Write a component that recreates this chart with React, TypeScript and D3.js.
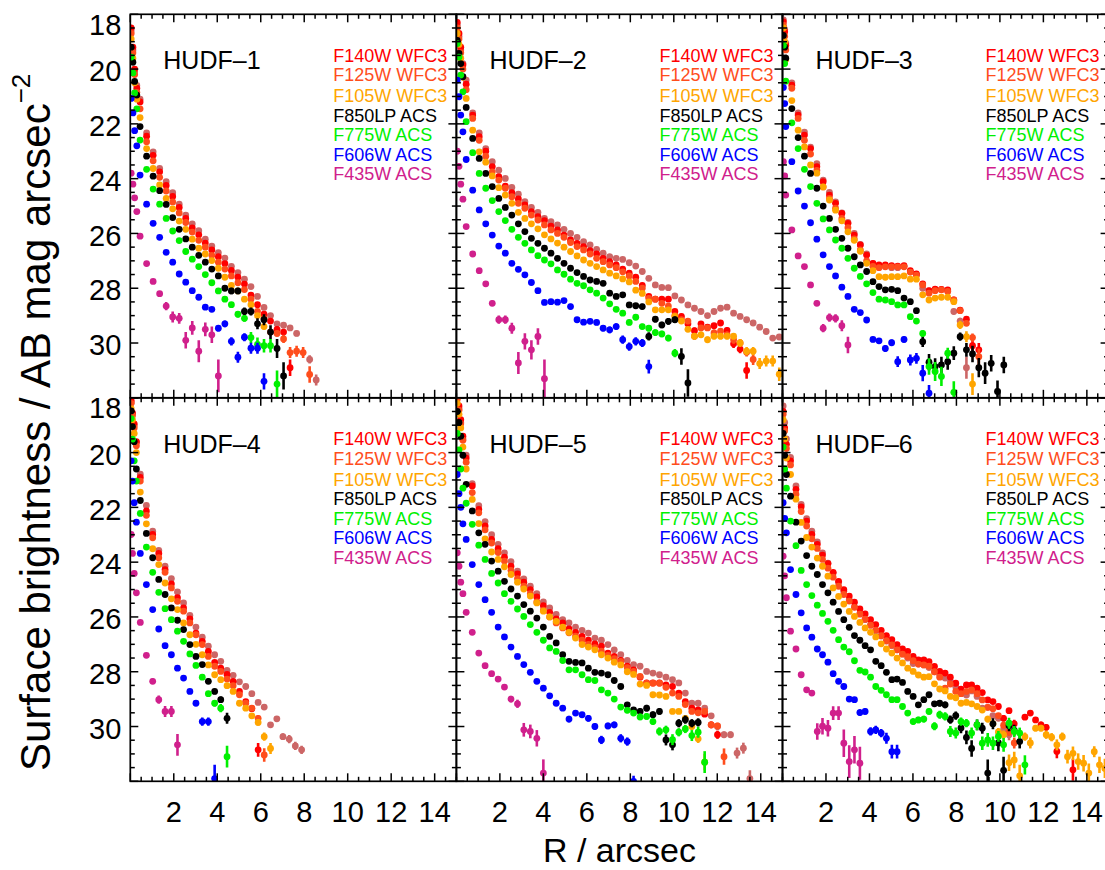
import React from 'react';
import * as d3 from 'd3';

type Pt = number | [number, number] | null;

// ---------- radii (arcsec) of the profile points, one grid per galaxy ----------
const R_HUDF1 = [0.04, 0.12, 0.2, 0.3, 0.45, 0.75, 1.05, 1.35, 1.65, 1.95, 2.25, 2.55, 2.85, 3.15, 3.45, 3.75, 4.05, 4.35, 4.65, 4.95, 5.25, 5.55, 5.85, 6.15, 6.45, 6.75, 7.05, 7.35, 7.65, 7.95, 8.25, 8.55];
const R_HUDF2 = [0.04, 0.12, 0.2, 0.3, 0.45, 0.75, 1.05, 1.35, 1.65, 1.95, 2.25, 2.55, 2.85, 3.15, 3.45, 3.75, 4.05, 4.35, 4.65, 4.95, 5.25, 5.55, 5.85, 6.15, 6.45, 6.75, 7.05, 7.35, 7.65, 7.95, 8.25, 8.55, 8.85, 9.15, 9.45, 9.75, 10.05, 10.35, 10.65, 10.95, 11.25, 11.55, 11.85, 12.15, 12.45, 12.75, 13.05, 13.35, 13.65, 13.95, 14.25, 14.55, 14.85];
const R_HUDF3 = [0.04, 0.1, 0.15, 0.43, 0.72, 1.01, 1.29, 1.58, 1.87, 2.16, 2.44, 2.73, 3.01, 3.3, 3.58, 3.87, 4.16, 4.44, 4.73, 5.02, 5.3, 5.59, 5.88, 6.16, 6.45, 6.74, 7.02, 7.31, 7.6, 7.88, 8.17, 8.46, 8.74, 9.03, 9.32, 9.6, 9.89, 10.18];
const R_HUDF4 = [0.04, 0.1, 0.18, 0.28, 0.46, 0.74, 1.03, 1.31, 1.6, 1.89, 2.17, 2.45, 2.74, 3.02, 3.31, 3.59, 3.88, 4.16, 4.45, 4.73, 5.02, 5.31, 5.59, 5.88, 6.16, 6.45, 6.74, 7.02, 7.31, 7.59, 7.88];
const R_HUDF5 = [0.04, 0.12, 0.2, 0.3, 0.45, 0.73, 1.03, 1.32, 1.62, 1.92, 2.21, 2.51, 2.81, 3.1, 3.4, 3.7, 4.0, 4.29, 4.59, 4.89, 5.18, 5.48, 5.78, 6.07, 6.37, 6.67, 6.97, 7.26, 7.56, 7.86, 8.15, 8.45, 8.75, 9.04, 9.34, 9.64, 9.94, 10.23, 10.53, 10.83, 11.12, 11.42, 11.72, 12.01, 12.31, 12.61, 12.91, 13.2, 13.5];
const R_HUDF6 = [0.03, 0.1, 0.18, 0.37, 0.62, 0.86, 1.11, 1.35, 1.6, 1.84, 2.09, 2.33, 2.58, 2.82, 3.07, 3.31, 3.56, 3.8, 4.05, 4.29, 4.54, 4.78, 5.03, 5.27, 5.52, 5.76, 6.01, 6.25, 6.5, 6.74, 6.99, 7.23, 7.48, 7.72, 7.97, 8.21, 8.46, 8.7, 8.95, 9.19, 9.44, 9.68, 9.93, 10.17, 10.42, 10.66, 10.91, 11.15, 11.4, 11.64, 11.89, 12.13, 12.38, 12.62, 12.87, 13.11, 13.36, 13.6, 13.85, 14.09, 14.34, 14.58, 14.83];

// ---------- surface brightness (AB mag/arcsec^2); [mag, err] where an error bar shows ----------
// HUDF-1
const HUDF1_F160W: Pt[] = [18.6, 19.3, 20.1, 20.6, 21.1, 22.33, 23.02, 23.63, 24.11, 24.51, 24.93, 25.33, 25.65, 25.9, 26.21, 26.46, 26.7, 26.9, 27.2, 27.43, 27.67, 27.94, 28.3, 28.7, 29.0, 29.3, 29.35, [29.45, 0.08], [29.65, 0.1], null, [30.6, 0.15], [31.35, 0.2]];
const HUDF1_F140W: Pt[] = [18.5, 19.2, 20.0, 20.7, 21.2, 22.45, 23.15, 23.75, 24.25, 24.65, 25.05, 25.45, 25.8, 26.05, 26.35, 26.6, 26.85, 27.1, 27.35, 27.6, 27.85, 28.25, 28.6, 28.95, [29.2, 0.1], [29.5, 0.12], [29.6, 0.12], [30.9, 0.3]];
const HUDF1_F125W: Pt[] = [18.7, 19.4, 20.2, 20.85, 21.45, 22.65, 23.35, 23.95, 24.45, 24.85, 25.25, 25.6, 25.95, 26.25, 26.5, 26.8, 27.05, 27.3, 27.55, 27.8, 28.05, 28.4, 28.85, 29.1, [29.6, 0.12], [29.65, 0.12], [29.85, 0.15], [30.35, 0.2], [30.3, 0.2], [30.35, 0.2], [31.15, 0.3]];
const HUDF1_F105W: Pt[] = [18.9, 19.6, 20.5, 21.1, 21.77, 22.9, 23.63, 24.23, 24.72, 25.1, 25.55, 25.85, 26.21, 26.54, 26.75, 26.99, 27.27, 27.6, 27.9, 28.1, 28.4, 28.6, [29.0, 0.1], [29.4, 0.12]];
const HUDF1_F850LP: Pt[] = [19.2, 19.75, 20.45, 20.95, 22.1, 23.18, 23.91, 24.44, 24.94, 25.42, 25.85, 26.2, 26.5, 26.8, 27.05, 27.3, 27.55, [28.0, 0.1], [28.1, 0.12], [28.1, 0.12], [28.85, 0.15], [28.85, 0.15], [29.3, 0.2], [29.15, 0.2], [29.6, 0.25], [30.2, 0.35], [31.2, 0.5]];
const HUDF1_F775W: Pt[] = [19.56, 20.14, 20.87, 21.45, 22.59, 23.66, 24.38, 24.93, 25.45, 25.91, 26.26, 26.66, 26.94, 27.21, 27.5, 27.8, 28.1, 28.4, 28.6, [28.95, 0.12], [29.1, 0.12], [29.8, 0.2], [30.05, 0.25], [30.1, 0.25], [30.1, 0.25], [31.5, 0.5]];
const HUDF1_F606W: Pt[] = [21.07, 21.6, 22.25, 22.8, 23.87, 24.93, 25.63, 26.14, 26.69, 27.05, 27.48, 27.78, 28.09, 28.33, 28.69, 28.77, [29.46, 0.12], [29.3, 0.12], [29.94, 0.15], [30.52, 0.2], [29.79, 0.15], [30.19, 0.2], [30.19, 0.2], [31.4, 0.3]];
const HUDF1_F435W: Pt[] = [23.8, 24.2, 24.7, 25.2, 26.1, 27.1, 27.75, [28.2, 0.1], [28.65, 0.15], [29.05, 0.2], [29.1, 0.2], [29.9, 0.3], [29.45, 0.25], [30.3, 0.4], [29.5, 0.25], [29.7, 0.3], [31.2, 0.6]];

// HUDF-2
const HUDF2_F160W: Pt[] = [18.4, 18.8, 19.3, 19.8, 20.4, 21.6, 22.33, 22.9, 23.38, 23.69, 23.99, 24.32, 24.57, 24.84, 25.05, 25.23, 25.45, 25.57, 25.69, 25.85, 26.0, 26.14, 26.3, 26.42, 26.58, 26.72, 26.85, 26.91, 26.95, 27.07, 27.19, 27.39, 27.64, 27.88, 27.97, 27.98, 28.28, 28.43, 28.61, 28.73, 28.85, 29.0, 28.85, 28.73, 28.69, 28.91, 29.03, 29.15, 29.27, 29.42, 29.58, 29.82, 29.78];
const HUDF2_F140W: Pt[] = [18.3, 18.7, 19.2, 19.85, 20.55, 21.68, 22.47, 23.0, 23.56, 23.93, 24.27, 24.51, 24.74, 24.96, 25.2, 25.39, 25.53, 25.73, 25.87, 26.06, 26.24, 26.36, 26.48, 26.63, 26.75, 26.91, 27.03, 27.15, 27.3, 27.45, 27.6, 27.9, 28.3, 28.4, 28.4, 28.4, 28.85, [29.03, 0.1], [29.3, 0.1], [29.55, 0.12], [29.3, 0.1], [29.42, 0.1], [29.37, 0.1], [29.27, 0.1], [29.54, 0.12], [30.03, 0.15], [30.22, 0.15], [31.0, 0.3]];
const HUDF2_F125W: Pt[] = [18.5, 18.9, 19.4, 20.0, 20.75, 21.8, 22.6, 23.18, 23.75, 24.05, 24.35, 24.66, 24.9, 25.08, 25.33, 25.51, 25.69, 25.87, 26.0, 26.14, 26.33, 26.48, 26.6, 26.75, 26.91, 27.03, 27.15, 27.25, 27.4, 27.55, 27.75, 28.0, 28.37, 28.4, 28.55, 28.65, 29.0, [29.15, 0.1], [29.2, 0.1], [29.75, 0.12], [29.45, 0.1], [29.45, 0.1], [29.63, 0.12], [29.57, 0.12], [29.7, 0.12], [29.88, 0.15], [30.0, 0.15], [30.34, 0.15], [30.6, 0.2]];
const HUDF2_F105W: Pt[] = [18.7, 19.1, 19.6, 20.3, 21.07, 22.23, 23.02, 23.4, 23.9, 24.33, 24.6, 24.9, 25.23, 25.45, 25.65, 25.83, 26.05, 26.2, 26.35, 26.5, 26.66, 26.82, 26.97, 27.09, 27.21, 27.33, 27.45, 27.55, 27.66, 27.77, 28.07, 28.19, 28.5, 28.79, 28.79, 28.79, 29.03, [29.2, 0.1], [29.5, 0.1], [29.75, 0.12], [29.7, 0.12], [29.88, 0.12], [29.75, 0.12], [29.75, 0.12], [29.75, 0.12], [29.75, 0.12], [30.0, 0.15], [30.3, 0.15], [30.3, 0.15], [30.75, 0.2], [30.66, 0.2], [30.66, 0.2], [31.14, 0.25]];
const HUDF2_F850LP: Pt[] = [18.95, 19.43, 19.8, 20.28, 21.4, 22.53, 23.26, 23.81, 24.29, 24.72, 25.05, 25.33, 25.65, 25.93, 26.18, 26.36, 26.54, 26.72, 26.91, 27.09, 27.27, 27.43, 27.57, 27.7, 27.75, 27.82, [28.18, 0.08], [28.3, 0.08], [28.24, 0.08], [28.61, 0.1], [28.64, 0.1], [28.67, 0.1], [29.76, 0.15], [29.13, 0.12], [29.34, 0.12], [29.21, 0.12], [29.15, 0.12], [30.49, 0.3], [31.46, 0.5]];
const HUDF2_F775W: Pt[] = [19.07, 19.56, 20.22, 20.83, 21.92, 23.05, 23.81, 24.35, 24.8, 25.2, 25.53, 25.85, 26.14, 26.36, 26.6, 26.81, 26.97, 27.11, 27.33, 27.49, 27.67, 27.82, 27.91, 28.06, 28.18, 28.36, 28.57, 28.77, [28.91, 0.08], [29.25, 0.1], [29.06, 0.1], [29.4, 0.1], [29.46, 0.12], [29.62, 0.12], [29.67, 0.12], [29.82, 0.12], [30.37, 0.15]];
const HUDF2_F606W: Pt[] = [20.4, 21.01, 21.68, 22.29, 23.3, 24.42, 25.14, 25.65, 26.06, 26.46, 26.72, 27.09, 27.31, 27.51, 27.79, 28.09, [28.52, 0.08], [28.49, 0.08], [28.51, 0.08], [28.45, 0.08], [28.67, 0.1], [29.15, 0.1], [29.24, 0.1], [29.21, 0.1], [29.25, 0.1], [29.46, 0.12], [29.52, 0.12], [29.4, 0.12], [29.88, 0.15], [30.13, 0.15], [29.94, 0.15], [30.0, 0.15], [30.86, 0.25]];
const HUDF2_F435W: Pt[] = [23.0, 23.55, 24.2, 24.75, 25.75, 26.75, 27.36, [27.84, 0.08], [28.55, 0.1], [29.15, 0.15], [29.15, 0.15], [29.46, 0.2], [30.73, 0.4], [29.94, 0.3], [30.25, 0.35], [29.76, 0.3], [31.3, 0.7]];

// HUDF-3
const HUDF3_F160W: Pt[] = [18.2, 18.55, 19.05, 20.5, 21.6, 22.3, 22.85, 23.45, 24.05, 24.5, 24.85, 25.25, 25.6, 26.0, 26.4, 26.75, 27.1, 27.2, 27.2, 27.25, 27.25, 27.2, 27.4, 27.5, 28.0, 28.1, 28.05, 28.05, 28.1, [28.85, 0.1], [29.2, 0.12], [30.9, 0.4]];
const HUDF3_F140W: Pt[] = [18.28, 18.64, 19.13, 20.59, 21.68, 22.41, 22.9, 23.56, 24.11, 24.6, 24.9, 25.27, 25.63, 26.06, 26.42, 26.79, 27.09, 27.15, 27.15, 27.18, 27.19, 27.18, 27.36, 27.48, 27.84, 28.09, 28.03, 28.04, 28.06, 28.43, 28.8, [29.13, 0.08], [30.1, 0.2], [30.25, 0.25]];
const HUDF3_F125W: Pt[] = [18.4, 18.8, 19.3, 20.7, 21.8, 22.6, 23.1, 23.7, 24.3, 24.72, 25.08, 25.45, 25.79, 26.2, 26.6, 27.0, 27.2, 27.25, 27.22, 27.22, 27.22, 27.22, 27.41, 27.52, 27.88, 28.18, 28.09, 28.06, 28.12, 28.43, 28.82, [29.28, 0.1], [29.8, 0.15], [30.5, 0.3]];
const HUDF3_F105W: Pt[] = [18.5, 19.0, 19.65, 21.15, 22.23, 22.84, 23.5, 23.8, 24.3, 24.78, 25.15, 25.54, 25.94, 26.25, 26.65, 27.09, 27.36, 27.58, 27.6, 27.58, 27.58, 27.55, 27.67, 27.67, 28.24, 28.43, 28.36, 28.33, 28.33, 28.49, [29.34, 0.15], [29.77, 0.2], [31.5, 0.4]];
const HUDF3_F850LP: Pt[] = [18.77, 19.2, 19.6, 21.44, 22.5, 23.18, 23.81, 24.35, 25.0, 25.45, 25.85, 26.18, 26.54, 26.85, 27.15, 27.39, 27.76, 27.94, 28.06, 28.04, 28.09, 28.36, 28.49, [28.82, 0.1], [29.95, 0.2], [30.7, 0.3], [30.86, 0.3], [30.8, 0.3], [30.68, 0.3], [30.37, 0.25], [29.77, 0.15], [30.25, 0.25], [30.4, 0.3], [30.9, 0.35], [31.1, 0.4], [30.74, 0.3], [31.77, 0.4], [30.8, 0.3]];
const HUDF3_F775W: Pt[] = [19.13, 19.8, 20.44, 21.96, 22.9, 23.66, 24.29, 24.9, 25.47, 25.87, 26.24, 26.54, 26.91, 27.27, 27.57, 27.84, 28.16, 28.4, 28.43, 28.49, 28.61, 28.61, 29.04, 29.2, [29.65, 0.12], [30.86, 0.3], [31.04, 0.35], [31.22, 0.35], [30.37, 0.2], [31.8, 0.4]];
const HUDF3_F606W: Pt[] = [20.67, 21.26, 22.1, 23.38, 24.45, 25.0, 25.61, 26.21, 26.78, 27.21, 27.55, 27.96, 28.3, 28.77, 28.89, 29.16, [29.87, 0.1], [29.92, 0.1], [30.2, 0.12], [29.99, 0.12], [30.68, 0.2], [29.87, 0.12], [30.62, 0.2], [30.56, 0.2], [31.1, 0.3], [31.83, 0.3]];
const HUDF3_F435W: Pt[] = [23.38, 23.9, 24.6, 25.87, 26.82, 27.21, 27.88, [28.55, 0.1], [29.46, 0.15], [29.07, 0.15], [29.1, 0.15], [29.37, 0.2], [30.07, 0.3]];

// HUDF-4
const HUDF4_F160W: Pt[] = [18.17, 18.6, 19.02, 19.63, 20.79, 21.93, 22.87, 23.57, 24.15, 24.6, 25.09, 25.49, 25.94, 26.37, 26.74, 27.07, 27.38, 27.62, 27.95, 28.13, 28.37, 28.54, 28.8, 29.12, 29.29, [29.94, 0.1], [29.72, 0.1], [30.37, 0.12], [30.46, 0.15], [30.71, 0.15], [30.85, 0.15]];
const HUDF4_F140W: Pt[] = [18.1, 18.55, 18.95, 19.6, 20.91, 22.13, 22.99, 23.68, 24.27, 24.79, 25.3, 25.67, 26.07, 26.59, 26.89, 27.26, 27.66, 27.87, 28.1, 28.35, 28.72, 29.09, [29.35, 0.1], [30.85, 0.25]];
const HUDF4_F125W: Pt[] = [18.2, 18.65, 19.1, 19.75, 21.04, 22.29, 23.11, 23.84, 24.37, 24.94, 25.43, 25.79, 26.22, 26.65, 27.01, 27.44, 27.8, 27.99, 28.27, 28.51, 28.84, [29.15, 0.1], [29.33, 0.1], [29.7, 0.12], [31.04, 0.25]];
const HUDF4_F105W: Pt[] = [18.4, 18.8, 19.3, 20.0, 21.44, 22.6, 23.51, 24.09, 24.76, 25.34, 25.73, 26.22, 26.65, 27.0, 27.38, 27.75, 28.11, 28.29, 28.51, 28.72, 29.15, [29.33, 0.1], [29.61, 0.1], [29.85, 0.12], [30.37, 0.15], [30.8, 0.2]];
const HUDF4_F850LP: Pt[] = [18.48, 19.05, 19.6, 20.6, 21.75, 22.95, 23.84, 24.63, 25.18, 25.67, 26.12, 26.46, 27.01, 27.44, 27.74, [28.35, 0.1], [28.72, 0.1], [29.02, 0.12], [29.7, 0.2]];
const HUDF4_F775W: Pt[] = [18.76, 19.51, 20.3, 21.04, 22.22, 23.45, 24.37, 25.1, 25.7, 26.1, 26.52, 26.89, 27.35, 27.77, 28.2, [28.8, 0.1], [29.15, 0.12], [29.33, 0.15], [31.1, 0.4]];
const HUDF4_F606W: Pt[] = [20.3, 21.04, 21.83, 22.54, 23.68, 24.82, 25.73, 26.44, 27.05, 27.38, 27.87, 28.23, [28.72, 0.08], [29.15, 0.1], [29.82, 0.15], [29.82, 0.15], [31.9, 0.5]];
const HUDF4_F435W: Pt[] = [22.99, 23.68, 24.41, 25.12, 26.2, 27.4, [28.35, 0.1], [29.02, 0.15], [29.45, 0.2], [29.45, 0.2], [30.67, 0.4]];

// HUDF-5
const HUDF5_F160W: Pt[] = [18.0, 18.4, 18.9, 19.5, 20.09, 21.13, 21.94, 22.52, 23.0, 23.35, 23.66, 23.98, 24.33, 24.61, 24.88, 25.15, 25.45, 25.67, 25.91, 26.1, 26.22, 26.37, 26.49, 26.59, 26.77, 26.85, 27.01, 27.2, 27.38, 27.59, 27.74, 27.8, 27.99, 28.05, 28.11, 28.2, 28.29, 28.41, 28.78, [29.15, 0.08], [29.15, 0.08], [29.33, 0.1], [29.61, 0.1], [30.0, 0.12], [30.3, 0.12], [30.3, 0.12], [30.97, 0.2], [30.79, 0.2], [31.9, 0.3]];
const HUDF5_F140W: Pt[] = [17.9, 18.3, 18.8, 19.4, 20.2, 21.22, 22.07, 22.68, 23.17, 23.51, 23.82, 24.15, 24.43, 24.73, 25.0, 25.27, 25.59, 25.83, 26.07, 26.22, 26.44, 26.56, 26.71, 26.85, 26.98, 27.07, 27.32, 27.44, 27.59, 27.8, 27.93, 28.2, 28.41, 28.41, 28.41, 28.48, 28.54, 28.78, 29.09, [29.33, 0.1], [29.39, 0.1], [29.55, 0.1], [29.94, 0.12], [30.3, 0.15]];
const HUDF5_F125W: Pt[] = [18.05, 18.45, 18.95, 19.55, 20.35, 21.46, 22.2, 22.82, 23.3, 23.65, 23.96, 24.3, 24.6, 24.88, 25.15, 25.45, 25.75, 26.0, 26.22, 26.4, 26.58, 26.7, 26.85, 27.0, 27.12, 27.25, 27.4, 27.52, 27.62, 27.85, 27.99, 28.17, 28.42, 28.42, 28.42, 28.57, 28.78, 28.9, 29.2, [29.45, 0.1], [29.5, 0.1], [29.45, 0.1], [29.94, 0.12], [29.98, 0.12], [31.1, 0.3]];
const HUDF5_F105W: Pt[] = [18.2, 18.6, 19.1, 19.8, 20.6, 21.71, 22.59, 23.15, 23.63, 23.9, 24.17, 24.45, 24.73, 24.98, 25.24, 25.49, 25.79, 26.0, 26.16, 26.37, 26.56, 26.77, 27.01, 27.1, 27.2, 27.38, 27.5, 27.65, 27.75, 28.0, 28.1, 28.45, 28.5, 28.84, 28.85, 28.9, [29.45, 0.08], [29.45, 0.08], [29.7, 0.1], [30.0, 0.12], [30.45, 0.15], [31.3, 0.3]];
const HUDF5_F850LP: Pt[] = [18.5, 18.9, 19.4, 20.1, 21.16, 22.13, 22.93, 23.35, 23.96, 24.33, 24.7, 24.98, 25.24, 25.55, 25.79, 26.04, 26.37, 26.71, 26.95, 27.38, 27.62, 27.66, 27.68, 27.87, 28.02, 28.05, 28.11, [28.32, 0.08], [28.54, 0.08], [29.21, 0.1], [29.39, 0.1], [29.45, 0.12], [29.33, 0.12], [29.57, 0.12], [29.45, 0.12], [30.49, 0.2], [30.67, 0.2], [29.88, 0.15], [29.75, 0.15], [29.88, 0.15], [29.85, 0.15]];
const HUDF5_F775W: Pt[] = [19.3, 19.9, 20.6, 21.3, 21.85, 22.62, 23.38, 23.9, 24.41, 24.76, 25.15, 25.43, 25.71, 25.98, 26.28, 26.56, 26.85, 27.13, 27.26, 27.59, 27.93, 27.93, 28.11, 28.29, 28.32, 28.66, 28.78, [29.0, 0.08], [29.29, 0.1], [29.41, 0.1], [29.51, 0.1], [29.65, 0.12], [29.63, 0.12], [29.82, 0.12], [30.18, 0.15], [30.12, 0.15], [30.48, 0.2], [30.21, 0.15], [30.09, 0.15], [30.33, 0.2], [30.21, 0.2], [31.3, 0.4]];
const HUDF5_F606W: Pt[] = [20.8, 21.5, 22.0, 22.6, 23.17, 24.09, 24.82, 25.37, 25.83, 26.37, 26.73, 27.1, 27.44, 27.74, 28.02, 28.35, 28.6, [28.88, 0.08], [29.15, 0.1], [29.33, 0.1], [29.73, 0.12], [29.51, 0.1], [29.57, 0.1], [29.7, 0.12], [30.0, 0.12], [30.49, 0.15], [29.98, 0.12], [29.94, 0.12], [30.43, 0.15], [30.55, 0.15], [32.0, 0.2]];
const HUDF5_F435W: Pt[] = [23.66, 24.15, 24.73, 25.15, 25.83, 26.56, 27.32, 27.78, 28.07, [28.27, 0.08], [28.56, 0.1], [29.0, 0.12], [29.17, 0.15], [30.12, 0.25], [30.18, 0.25], [30.43, 0.3], [31.7, 0.5]];

// HUDF-6
const HUDF6_F160W: Pt[] = [18.3, 18.9, 19.5, 20.18, 21.22, 21.89, 22.41, 22.87, 23.26, 23.66, 24.04, 24.4, 24.73, 25.06, 25.37, 25.63, 25.88, 26.1, 26.3, 26.5, 26.7, 26.88, 27.05, 27.2, 27.35, 27.5, 27.7, 27.72, 27.75, 27.85, 28.0, 28.1, 28.23, 28.35, 28.55, 28.8, 28.85, 28.7, 28.9, 29.33, 29.3, 29.6, 29.7, [30.1, 0.15], [30.3, 0.2]];
const HUDF6_F140W: Pt[] = [18.5, 19.1, 19.7, 20.3, 21.34, 21.98, 22.5, 22.99, 23.35, 23.74, 24.05, 24.37, 24.7, 25.0, 25.24, 25.46, 25.71, 25.89, 26.1, 26.28, 26.49, 26.68, 26.83, 27.01, 27.17, 27.26, 27.44, 27.57, 27.57, 27.63, 27.81, 27.99, 28.05, 28.2, 28.42, 28.64, 28.48, 28.48, 28.6, 28.76, [29.03, 0.08], [29.09, 0.08], [29.27, 0.1], [29.7, 0.12], [29.42, 0.1], [29.9, 0.15], null, [29.66, 0.1], [29.51, 0.1], [29.76, 0.1], [29.94, 0.12], [30.03, 0.12], null, [30.91, 0.25], null, null, [31.58, 0.4]];
const HUDF6_F125W: Pt[] = [18.6, 19.2, 19.85, 20.45, 21.52, 22.15, 22.68, 23.15, 23.5, 23.9, 24.22, 24.55, 24.88, 25.18, 25.42, 25.65, 25.9, 26.08, 26.3, 26.48, 26.68, 26.87, 27.02, 27.2, 27.36, 27.45, 27.6, 27.72, 27.75, 27.8, 28.0, 28.2, 28.6, 28.45, 28.72, 28.8, 28.72, 28.66, 28.8, 29.03, 29.3, 29.35, 29.6, [29.95, 0.12], [30.2, 0.15], [30.6, 0.2]];
const HUDF6_F105W: Pt[] = [18.8, 19.5, 20.2, 20.8, 21.7, 22.55, 23.1, 23.45, 23.85, 24.15, 24.51, 24.94, 25.25, 25.53, 25.8, 25.98, 26.2, 26.4, 26.56, 26.73, 26.98, 27.17, 27.32, 27.5, 27.68, 27.87, 27.99, 28.12, 28.2, 28.18, 28.44, 28.63, 28.7, 28.9, 28.95, 29.15, 29.12, 29.17, [29.27, 0.08], [29.4, 0.1], [29.73, 0.12], [29.9, 0.12], [30.2, 0.15], [30.3, 0.15], [31.32, 0.3], [31.22, 0.3], [31.8, 0.4], [30.37, 0.15], [30.6, 0.2], [30.06, 0.12], [30.06, 0.12], [30.3, 0.15], [30.39, 0.15], [30.67, 0.2], [30.37, 0.15], [31.1, 0.25], [30.98, 0.25], [31.28, 0.3], [31.34, 0.3], [31.7, 0.35], [30.92, 0.2], [31.4, 0.3], [31.53, 0.35]];
const HUDF6_F850LP: Pt[] = [19.3, 20.1, 20.8, 21.59, 22.54, 23.23, 23.76, 24.15, 24.45, 24.82, 25.12, 25.46, 25.8, 26.1, 26.38, 26.68, 26.85, 27.05, 27.2, 27.62, 27.78, 28.02, 28.29, 28.27, 28.39, [28.72, 0.08], [28.9, 0.08], [29.21, 0.1], [29.02, 0.1], [28.84, 0.1], [29.17, 0.1], [29.15, 0.12], [29.21, 0.12], [29.75, 0.15], [29.6, 0.15], [30.05, 0.2], [30.4, 0.25], [30.8, 0.3], [29.94, 0.2], [30.06, 0.2], [31.7, 0.5], [29.9, 0.2], [30.6, 0.3], [31.6, 0.5], [29.97, 0.2], [30.14, 0.2], [30.55, 0.25]];
const HUDF6_F775W: Pt[] = [19.8, 20.6, 21.3, 22.5, 23.4, 24.3, 24.82, 25.22, 25.57, 25.87, 26.16, 26.49, 26.83, 27.1, 27.27, 27.6, 27.95, 28.01, 28.2, 28.54, 28.68, [28.84, 0.08], [29.02, 0.08], [29.02, 0.08], [29.27, 0.1], [29.51, 0.1], [29.82, 0.12], [29.76, 0.12], [29.73, 0.12], [29.45, 0.12], [29.99, 0.15], [29.57, 0.15], [29.63, 0.15], [30.18, 0.2], [30.24, 0.2], [29.82, 0.15], [29.88, 0.15], [30.24, 0.2], [29.94, 0.2], [30.61, 0.25], [30.49, 0.25], [30.61, 0.25], [30.36, 0.2], [30.67, 0.25], [29.88, 0.2], [30.18, 0.2], [30.24, 0.2], [31.4, 0.35]];
const HUDF6_F606W: Pt[] = [21.83, 22.4, 22.93, 24.27, 25.18, 25.85, 26.4, 26.74, 27.17, 27.38, 27.65, 28.07, 28.35, [28.54, 0.08], [29.0, 0.1], [29.02, 0.1], [29.49, 0.12], [29.45, 0.12], [30.18, 0.15], [30.12, 0.15], [30.24, 0.15], [30.43, 0.2], [30.92, 0.25], [30.92, 0.25]];
const HUDF6_F435W: Pt[] = [23.78, 24.5, 25.3, 26.52, 27.17, [28.11, 0.08], [28.66, 0.1], [28.78, 0.1], [30.18, 0.3], [29.99, 0.3], [30.06, 0.3], [29.51, 0.25], [29.51, 0.25], [30.61, 0.5], [31.28, 0.6], [30.85, 0.5], [31.34, 0.6]];

// ---------- labels, colours, ticks ----------
const BAND_LABELS = ['F140W WFC3', 'F125W WFC3', 'F105W WFC3', 'F850LP ACS', 'F775W ACS', 'F606W ACS', 'F435W ACS'];
const BAND_COLORS = ['#ff0000', '#ff4d1c', '#ffa500', '#000000', '#00f000', '#0000ff', '#d0208c'];
const EXTRA_COLOR = '#cc6666'; // unlabelled reddest band
const PANEL_NAMES = ['HUDF\u20131', 'HUDF\u20132', 'HUDF\u20133', 'HUDF\u20134', 'HUDF\u20135', 'HUDF\u20136'];
const X_TICK_LABELS = [2, 4, 6, 8, 10, 12, 14];
const Y_TICK_LABELS = [18, 20, 22, 24, 26, 28, 30];
const X_DOMAIN = [0, 15];
const Y_DOMAIN = [18, 32];

const PANELS = [
  { name: PANEL_NAMES[0], r: R_HUDF1, extra: HUDF1_F160W, bands: [HUDF1_F140W, HUDF1_F125W, HUDF1_F105W, HUDF1_F850LP, HUDF1_F775W, HUDF1_F606W, HUDF1_F435W] },
  { name: PANEL_NAMES[1], r: R_HUDF2, extra: HUDF2_F160W, bands: [HUDF2_F140W, HUDF2_F125W, HUDF2_F105W, HUDF2_F850LP, HUDF2_F775W, HUDF2_F606W, HUDF2_F435W] },
  { name: PANEL_NAMES[2], r: R_HUDF3, extra: HUDF3_F160W, bands: [HUDF3_F140W, HUDF3_F125W, HUDF3_F105W, HUDF3_F850LP, HUDF3_F775W, HUDF3_F606W, HUDF3_F435W] },
  { name: PANEL_NAMES[3], r: R_HUDF4, extra: HUDF4_F160W, bands: [HUDF4_F140W, HUDF4_F125W, HUDF4_F105W, HUDF4_F850LP, HUDF4_F775W, HUDF4_F606W, HUDF4_F435W] },
  { name: PANEL_NAMES[4], r: R_HUDF5, extra: HUDF5_F160W, bands: [HUDF5_F140W, HUDF5_F125W, HUDF5_F105W, HUDF5_F850LP, HUDF5_F775W, HUDF5_F606W, HUDF5_F435W] },
  { name: PANEL_NAMES[5], r: R_HUDF6, extra: HUDF6_F160W, bands: [HUDF6_F140W, HUDF6_F125W, HUDF6_F105W, HUDF6_F850LP, HUDF6_F775W, HUDF6_F606W, HUDF6_F435W] },
];

// ---------- layout ----------
const LEFT = 130.3;
const PW = 326.1;
const TOP = 14.3;
const PH = 383.5;
const FONT = '"Liberation Sans", Arial, Helvetica, sans-serif';
const LEGEND_DY = [47.5, 67, 88, 107.5, 127, 146.5, 166];

function Series({ r, data, color, x, y }: { r: number[]; data: Pt[]; color: string; x: any; y: any }) {
  return (
    <g>
      {data.map((p, i) => {
        if (p === null || p === undefined) return null;
        const m = Array.isArray(p) ? p[0] : p;
        const e = Array.isArray(p) ? p[1] : 0;
        const cx = x(r[i]);
        return (
          <g key={i}>
            {e > 0 && (
              <line x1={cx} x2={cx} y1={y(m - e)} y2={y(m + e)} stroke={color} strokeWidth={2.6} />
            )}
            <circle cx={cx} cy={y(m)} r={3.4} fill={color} />
          </g>
        );
      })}
    </g>
  );
}

function Panel({ idx }: { idx: number }) {
  const p = PANELS[idx];
  const col = idx % 3;
  const row = Math.floor(idx / 3);
  const x0 = LEFT + col * PW;
  const y0 = TOP + row * PH;
  const x = d3.scaleLinear().domain(X_DOMAIN).range([x0, x0 + PW]);
  const y = d3.scaleLinear().domain(Y_DOMAIN).range([y0, y0 + PH]);
  const clipId = `clip-${idx}`;
  const xMinor = d3.range(0, 15.001, 0.5);
  const yMinor = d3.range(18, 32.001, 0.5);
  const isMajor = (v: number) => Math.abs(v / 2 - Math.round(v / 2)) < 1e-6;
  const ML = 8, mL = 4.5;
  return (
    <g>
      <defs>
        <clipPath id={clipId}>
          <rect x={x0} y={y0} width={PW} height={PH} />
        </clipPath>
      </defs>
      <g clipPath={`url(#${clipId})`}>
        <Series r={p.r} data={p.extra} color={EXTRA_COLOR} x={x} y={y} />
        {p.bands.map((b, k) => (
          <Series key={k} r={p.r} data={b} color={BAND_COLORS[k]} x={x} y={y} />
        ))}
      </g>
      <g stroke="#000" strokeWidth={1.5}>
        {xMinor.map((v, i) => {
          const len = isMajor(v) ? ML : mL;
          const xx = x(v);
          return (
            <g key={'x' + i}>
              <line x1={xx} x2={xx} y1={y0 + PH} y2={y0 + PH - len} />
              <line x1={xx} x2={xx} y1={y0} y2={y0 + len} />
            </g>
          );
        })}
        {yMinor.map((v, i) => {
          const len = isMajor(v) ? ML : mL;
          const yy = y(v);
          return (
            <g key={'y' + i}>
              <line x1={x0} x2={x0 + len} y1={yy} y2={yy} />
              <line x1={x0 + PW} x2={x0 + PW - len} y1={yy} y2={yy} />
            </g>
          );
        })}
      </g>
      <rect x={x0} y={y0} width={PW} height={PH} fill="none" stroke="#000" strokeWidth={1.7} />
      <text x={x0 + 33} y={y0 + 55} fontFamily={FONT} fontSize={25} fill="#000">{p.name}</text>
      {BAND_LABELS.map((lab, k) => (
        <text key={lab} x={x0 + 203} y={y0 + LEGEND_DY[k]} fontFamily={FONT} fontSize={18} fill={BAND_COLORS[k]}>{lab}</text>
      ))}
      {row === 1 && X_TICK_LABELS.map((v) => (
        <text key={'xl' + v} x={x(v)} y={y0 + PH + 41} textAnchor="middle" fontFamily={FONT} fontSize={29} fill="#000">{v}</text>
      ))}
      {col === 0 && Y_TICK_LABELS.map((v) => (
        <text key={'yl' + v} x={x0 - 9} y={y(v) + (v === 18 ? 10.5 : 2)} dy="0.35em" textAnchor="end" fontFamily={FONT} fontSize={29} fill="#000">{v}</text>
      ))}
    </g>
  );
}

export default function App() {
  return (
    <svg width={1105} height={870} viewBox="0 0 1105 870" style={{ position: 'absolute', left: 0, top: 0, background: '#fff' }}>
      <rect x={0} y={0} width={1105} height={870} fill="#fff" />
      {PANELS.map((_, i) => <Panel key={i} idx={i} />)}
      <text x={619.5} y={862} textAnchor="middle" fontFamily={FONT} fontSize={34} fill="#000">R / arcsec</text>
      <text transform="translate(50,771) rotate(-90)" fontFamily={FONT} fontSize={42} fill="#000">
        Surface brightness / AB mag arcsec
        <tspan fontSize={26} dy={-20}>{'\u22122'}</tspan>
      </text>
    </svg>
  );
}
